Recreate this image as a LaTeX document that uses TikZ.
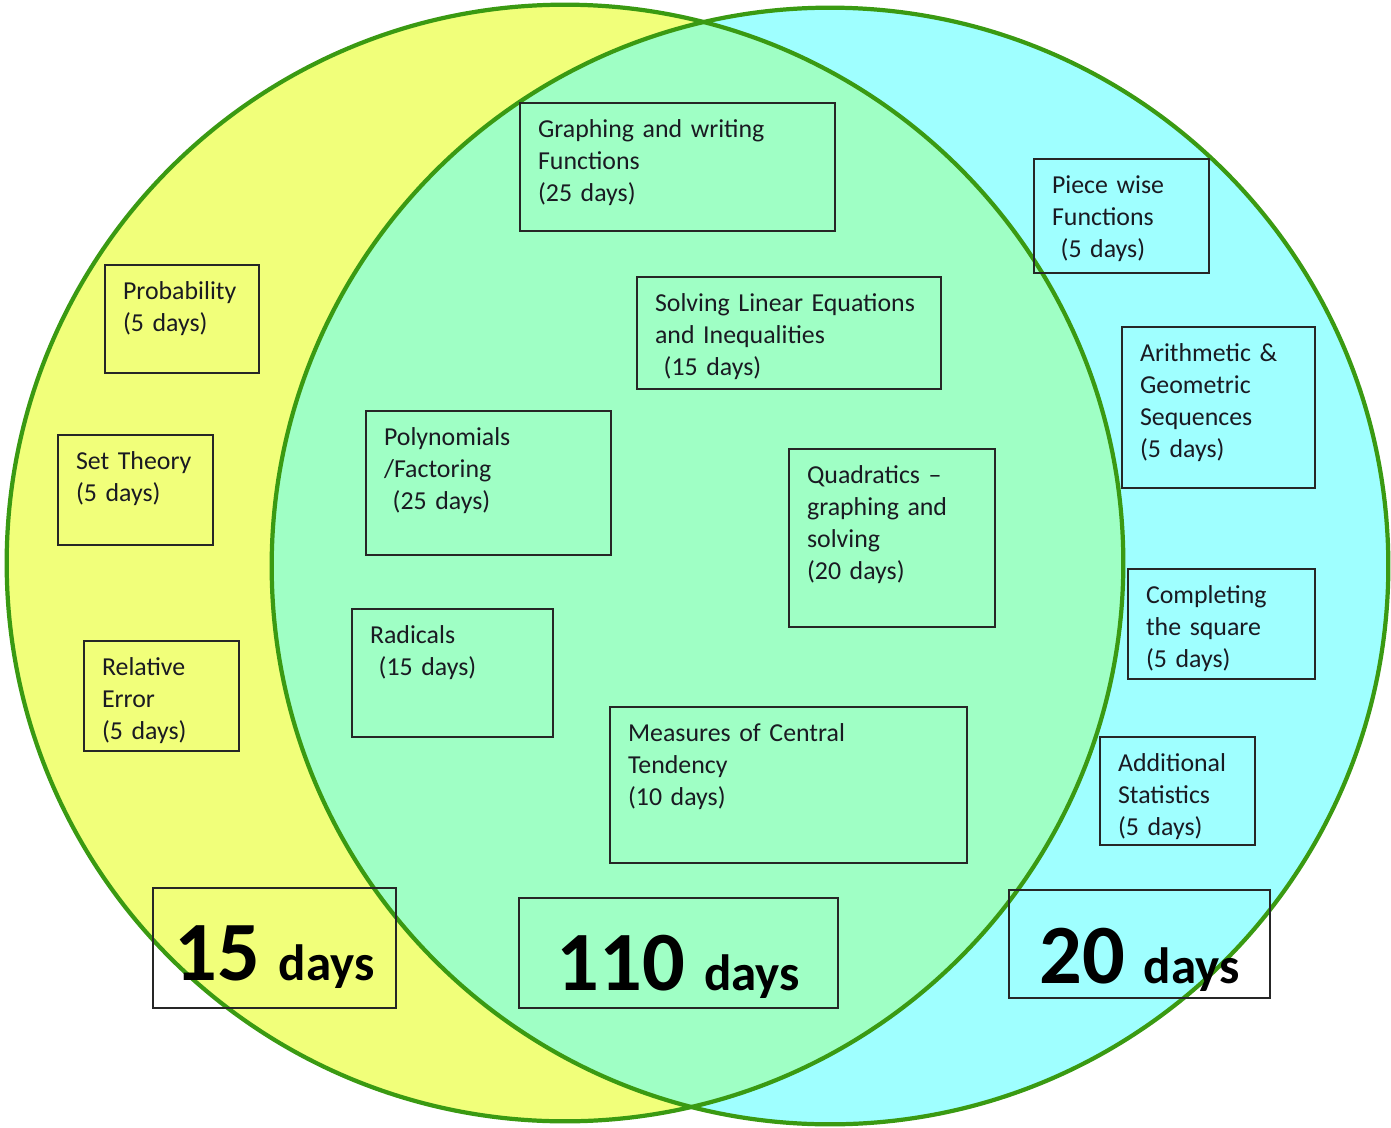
\documentclass[tikz,border=0pt]{standalone}
\usepackage{fontspec}
\setmainfont{Carlito}
\usepackage{tikz}
\usetikzlibrary{positioning}

\definecolor{vyellow}{HTML}{F1FF7A}
\definecolor{vcyan}{HTML}{9FFFFF}
\definecolor{vgreen}{HTML}{9FFFC5}
\definecolor{vline}{HTML}{3A9A12}
\definecolor{vtext}{HTML}{1A1A22}

\begin{document}
\begin{tikzpicture}[x=0.01cm,y=-0.01cm,
  topic/.style={draw=black!85,line width=0.6pt,anchor=north west,align=left,
    inner xsep=0.18cm,inner ysep=0pt,text height=0.34cm,text=vtext,
    font=\fontsize{7.35}{9.1}\selectfont},
  total/.style={draw=black!85,line width=0.6pt,inner sep=0pt,text depth=0pt,text=black,
    font=\fontsize{24}{24}\selectfont\bfseries},
  ring/.style={vline,line width=1.2pt}]
\useasboundingbox (0,0) rectangle (1391,1127);
% the two sets
\fill[vyellow] (565,563) circle[radius=5.58cm];
\fill[vcyan] (830,566) circle[radius=5.58cm];
\begin{scope}
\clip (565,563) circle[radius=5.58cm];
\fill[vgreen] (830,566) circle[radius=5.58cm];
\end{scope}
\draw[ring] (565,563) circle[radius=5.58cm];
\draw[ring] (830,566) circle[radius=5.58cm];

% left only
\node[topic,text width=1.18cm,text depth=0.74cm] (prob) at (104,264) {Probability\\(5 days)};
\node[topic,text width=1.19cm,text depth=0.76cm] (settheory) at (57,434) {Set Theory\\(5 days)};
\node[topic,text width=1.19cm,text depth=0.76cm] (relerr) at (83,640) {Relative\\Error\\(5 days)};

% both
\node[topic,text width=2.79cm,text depth=0.94cm] (graphing) at (519,102) {Graphing and writing\\Functions\\(25 days)};
\node[topic,text width=2.68cm,text depth=0.78cm] (solving) at (636,276) {Solving Linear Equations\\and Inequalities\\\ (15 days)};
\node[topic,text width=2.09cm,text depth=1.10cm] (poly) at (365,410) {Polynomials\\/Factoring\\\ (25 days)};
\node[topic,text width=1.70cm,text depth=1.44cm] (quad) at (788,448) {Quadratics --\\graphing and\\solving\\(20 days)};
\node[topic,text width=1.65cm,text depth=0.94cm] (radicals) at (351,608) {Radicals\\\ (15 days)};
\node[topic,text width=3.21cm,text depth=1.22cm] (measures) at (609,706) {Measures of Central\\Tendency\\(10 days)};

% right only
\node[topic,text width=1.39cm,text depth=0.80cm] (piecewise) at (1033,158) {Piece wise\\Functions\\\ (5 days)};
\node[topic,text width=1.57cm,text depth=1.27cm] (seq) at (1121,326) {Arithmetic \&\\Geometric\\Sequences\\(5 days)};
\node[topic,text width=1.51cm,text depth=0.76cm] (square) at (1127,568) {Completing\\the square\\(5 days)};
\node[topic,text width=1.19cm,text depth=0.74cm] (stats) at (1099,736) {Additional\\Statistics\\(5 days)};

% totals
\node[total,minimum width=2.43cm,minimum height=1.20cm,text height=0.64cm] (leftdays) at (274.5,948) {15 {\fontsize{14.5}{14.5}\selectfont days}};
\node[total,minimum width=3.19cm,minimum height=1.10cm,text height=0.74cm] (middays) at (678.5,953) {110 {\fontsize{14.5}{14.5}\selectfont days}};
\node[total,minimum width=2.61cm,minimum height=1.08cm,text height=0.78cm] (rightdays) at (1139.5,944) {20 {\fontsize{14.5}{14.5}\selectfont days}};
\end{tikzpicture}
\end{document}
